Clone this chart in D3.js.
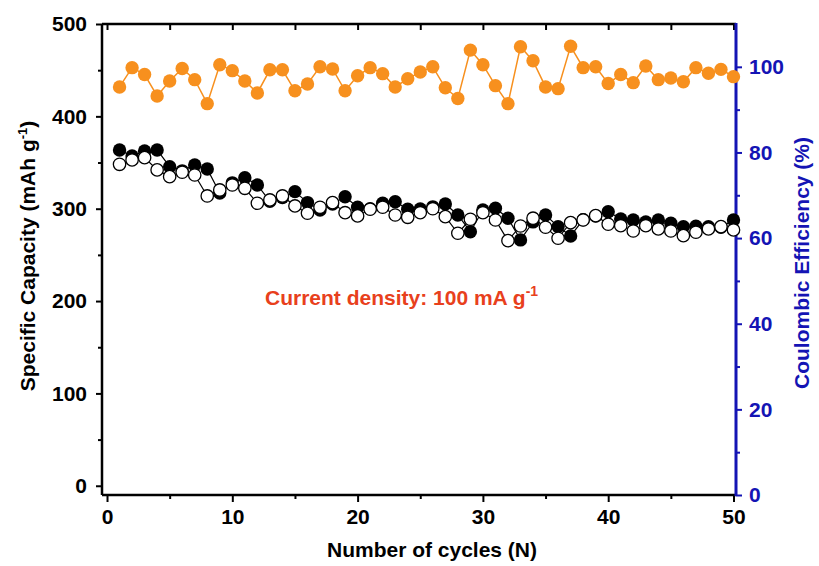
<!DOCTYPE html>
<html>
<head>
<meta charset="utf-8">
<script src="https://cdn.jsdelivr.net/npm/d3@7"></script>
<style>
  body { margin: 0; background: #fff; }
  text { font-family: "Liberation Sans", Arial, sans-serif; font-weight: bold; }
</style>
</head>
<body>
<div id="chart"></div>
<script>
// cycles 1..50
const cycles = d3.range(1, 51);

// discharge capacity (filled black), mAh/g
const discharge = [363.6, 357, 362.5, 363.6, 345.5, 341, 347.4, 343.0, 317, 328,
                   333.6, 325.7, 308, 312, 318.5, 306.6, 298.6, 305, 313.0, 301.6,
                   300, 305.9, 307.6, 299.4, 299.7, 302, 305.1, 293.2, 275.1, 298.6,
                   300.5, 289.7, 266.2, 285.7, 293.2, 280.6, 270.5, 288, 292, 296.8,
                   288.9, 287.8, 285.7, 287.8, 284.3, 280.6, 281, 280.6, 280, 287.8];

// charge capacity (open circles), mAh/g
const charge = [348.1, 352.8, 355.3, 342.0, 334.7, 339.5, 336.5, 313.8, 320.3, 325.7,
                322.1, 305.9, 309.5, 313.8, 303.0, 295.1, 301.6, 306.6, 295.7, 292.2,
                299.4, 301.6, 293.2, 290.7, 295.7, 300, 291.4, 273.4, 288.6, 295.7,
                287.8, 265.4, 281.3, 289.7, 279.9, 268.0, 284.9, 287.8, 292.5, 283.2,
                281.6, 275.9, 281.6, 278.1, 275.9, 270.8, 274.5, 278.1, 280.6, 277.0];

// coulombic efficiency (orange), %
const efficiency = [95.3, 99.8, 98.2, 93.2, 96.7, 99.6, 97.0, 91.4, 100.5, 99.1,
                    96.7, 93.9, 99.3, 99.3, 94.4, 96.0, 100.0, 99.5, 94.4, 97.9,
                    99.8, 98.4, 95.3, 97.2, 98.8, 100.0, 95.1, 92.6, 103.9, 100.5,
                    95.6, 91.4, 104.7, 101.4, 95.3, 94.9, 104.8, 99.8, 100.0, 96.1,
                    98.2, 96.3, 100.2, 97.0, 97.4, 96.5, 99.8, 98.5, 99.4, 97.7];

const xTicks = [0, 10, 20, 30, 40, 50];
const yLeftTicks = [0, 100, 200, 300, 400, 500];
const yRightTicks = [0, 20, 40, 60, 80, 100];

const w = 819, h = 566;
const pLeft = 102, pRight = 736, pTop = 24, pBottom = 495;
const blue = "#1414b4", orange = "#f7901e";

const svg = d3.select("#chart").append("svg").attr("width", w).attr("height", h);

const x = d3.scaleLinear().domain([-0.4, 50.2]).range([pLeft, pRight]);
const yL = d3.scaleLinear().domain([-10, 500]).range([pBottom, pTop]);
const yR = d3.scaleLinear().domain([0, 110]).range([pBottom, pTop]);

function styleAxis(g, color) {
  g.select(".domain").remove();
  g.selectAll("line").attr("stroke", color).attr("stroke-width", 2);
  g.selectAll("text").attr("fill", color).style("font-size", "21px");
}

// major + minor ticks
svg.append("g").attr("transform", `translate(${pLeft},0)`)
  .call(d3.axisLeft(yL).tickValues(yLeftTicks).tickSize(6).tickPadding(9))
  .call(g => styleAxis(g, "#000"));
svg.append("g").attr("transform", `translate(${pLeft},0)`)
  .call(d3.axisLeft(yL).tickValues(d3.range(50, 500, 100)).tickSize(4).tickFormat(""))
  .call(g => styleAxis(g, "#000"));

svg.append("g").attr("transform", `translate(0,${pBottom})`)
  .call(d3.axisBottom(x).tickValues(xTicks).tickSize(7).tickPadding(7))
  .call(g => styleAxis(g, "#000"));
svg.append("g").attr("transform", `translate(0,${pBottom})`)
  .call(d3.axisBottom(x).tickValues(d3.range(5, 50, 10)).tickSize(4).tickFormat(""))
  .call(g => styleAxis(g, "#000"));

svg.append("g").attr("transform", `translate(0,${pTop})`)
  .call(d3.axisBottom(x).tickValues(d3.range(0, 51, 5)).tickSize(6).tickFormat(""))
  .call(g => styleAxis(g, "#000"));

svg.append("g").attr("transform", `translate(${pRight},0)`)
  .call(d3.axisRight(yR).tickValues(yRightTicks).tickSize(6).tickPadding(7))
  .call(g => styleAxis(g, blue));
svg.append("g").attr("transform", `translate(${pRight},0)`)
  .call(d3.axisRight(yR).tickValues(d3.range(10, 110, 20)).tickSize(4).tickFormat(""))
  .call(g => styleAxis(g, blue));

// frame
svg.append("line").attr("x1", pLeft).attr("x2", pLeft).attr("y1", pTop).attr("y2", pBottom)
  .attr("stroke", "#000").attr("stroke-width", 2.5);
svg.append("line").attr("x1", pLeft).attr("x2", pRight).attr("y1", pTop).attr("y2", pTop)
  .attr("stroke", "#000").attr("stroke-width", 2.5);
svg.append("line").attr("x1", pLeft).attr("x2", pRight).attr("y1", pBottom).attr("y2", pBottom)
  .attr("stroke", "#000").attr("stroke-width", 2.5);
svg.append("line").attr("x1", pRight).attr("x2", pRight).attr("y1", pTop - 1).attr("y2", pBottom + 1)
  .attr("stroke", blue).attr("stroke-width", 3);

// series
const r = 6.7;
const lineL = d3.line().x((d, i) => x(cycles[i])).y(d => yL(d));
const lineR = d3.line().x((d, i) => x(cycles[i])).y(d => yR(d));

svg.append("path").datum(efficiency).attr("d", lineR)
  .attr("fill", "none").attr("stroke", orange).attr("stroke-width", 1.5);
svg.append("g").selectAll("circle").data(efficiency).join("circle")
  .attr("cx", (d, i) => x(cycles[i])).attr("cy", d => yR(d)).attr("r", r)
  .attr("fill", orange);

svg.append("path").datum(discharge).attr("d", lineL)
  .attr("fill", "none").attr("stroke", "#000").attr("stroke-width", 1.2);
svg.append("g").selectAll("circle").data(discharge).join("circle")
  .attr("cx", (d, i) => x(cycles[i])).attr("cy", d => yL(d)).attr("r", r)
  .attr("fill", "#000");

svg.append("path").datum(charge).attr("d", lineL)
  .attr("fill", "none").attr("stroke", "#000").attr("stroke-width", 1.2);
svg.append("g").selectAll("circle").data(charge).join("circle")
  .attr("cx", (d, i) => x(cycles[i])).attr("cy", d => yL(d)).attr("r", r - 0.5)
  .attr("fill", "#fff").attr("stroke", "#000").attr("stroke-width", 1.3);

// axis titles
svg.append("text").attr("x", 432).attr("y", 557)
  .attr("text-anchor", "middle").style("font-size", "21px")
  .text("Number of cycles (N)");

const yt = svg.append("text")
  .attr("transform", "translate(35,256) rotate(-90)")
  .attr("text-anchor", "middle").style("font-size", "21px");
yt.append("tspan").text("Specific Capacity (mAh g");
yt.append("tspan").attr("dy", -8).style("font-size", "13px").text("-1");
yt.append("tspan").attr("dy", 8).text(")");

svg.append("text")
  .attr("transform", "translate(809,263) rotate(-90)")
  .attr("text-anchor", "middle").style("font-size", "21px").attr("fill", blue)
  .text("Coulombic Efficiency (%)");

// annotation
const ann = svg.append("text").attr("x", 265).attr("y", 305)
  .style("font-size", "21px").attr("fill", "#e8401c");
ann.append("tspan").text("Current density: 100 mA g");
ann.append("tspan").attr("dy", -9).style("font-size", "14px").text("-1");
</script>
</body>
</html>
